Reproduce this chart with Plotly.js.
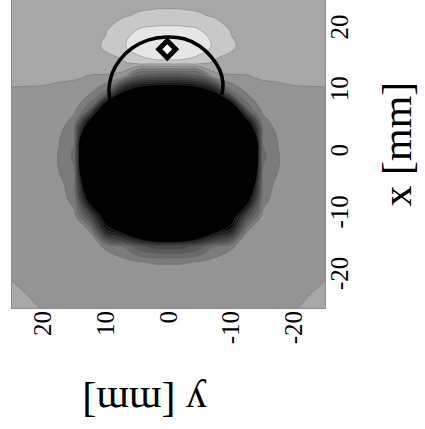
<!DOCTYPE html>
<html>
<head>
<meta charset="utf-8">
<script src="https://cdn.plot.ly/plotly-3.0.1.min.js"></script>
<style>
  html, body { margin: 0; padding: 0; background: #ffffff; }
  #chart { width: 425px; height: 429px; }
</style>
</head>
<body>
<div id="chart"></div>
<script>
// Grid coordinates in mm: horizontal axis is y, vertical axis is x
const gridY = [-25, -22.5, -20, -17.5, -15, -12.5, -10, -7.5, -5, -2.5, 0, 2.5, 5, 7.5, 10, 12.5, 15, 17.5, 20, 22.5, 25];
const gridX = [-25, -22.5, -20, -17.5, -15, -12.5, -10, -7.5, -5, -2.5, 0, 2.5, 5, 7.5, 10, 12.5, 15, 17.5, 20, 22.5, 25];

// Field level, one row per x value (bottom to top), columns follow gridY
const fieldRows = [
  [0.9, 0.45, -0.15, -0.5, -0.5, -0.5, -0.5, -0.5, -0.5, -0.5, -0.5, -0.5, -0.5, -0.5, -0.5, -0.5, -0.5, -0.5, -0.15, 0.45, 0.9],
  [0.45, -0.1, -0.5, -0.5, -0.5, -0.5, -0.5, -0.5, -0.5, -0.5, -0.5, -0.5, -0.5, -0.5, -0.5, -0.5, -0.5, -0.5, -0.5, -0.1, 0.45],
  [-0.15, -0.5, -0.5, -0.5, -0.5, -0.5, -0.5, -0.5, -0.5, -0.5, -0.5, -0.5, -0.5, -0.5, -0.5, -0.5, -0.5, -0.5, -0.5, -0.5, -0.15],
  [-0.5, -0.5, -0.5, -0.5, -0.5, -0.5, -0.5, -0.6, -0.95, -1.08, -1.1, -1.08, -0.95, -0.6, -0.5, -0.5, -0.5, -0.5, -0.5, -0.5, -0.5],
  [-0.5, -0.5, -0.5, -0.5, -0.5, -0.55, -1.15, -2.0, -3.5, -4.5, -4.75, -4.5, -3.5, -2.0, -1.15, -0.55, -0.5, -0.5, -0.5, -0.5, -0.5],
  [-0.5, -0.5, -0.5, -0.5, -0.5, -1.05, -7.5, -10, -15, -20, -22, -20, -15, -10, -7.5, -1.05, -0.5, -0.5, -0.5, -0.5, -0.5],
  [-0.5, -0.5, -0.5, -0.5, -0.8, -4.8, -11.5, -25, -25, -25, -25, -25, -25, -25, -11.5, -4.8, -0.8, -0.5, -0.5, -0.5, -0.5],
  [-0.5, -0.5, -0.5, -0.5, -1.35, -11, -25, -25, -25, -25, -25, -25, -25, -25, -25, -11, -1.35, -0.5, -0.5, -0.5, -0.5],
  [-0.5, -0.5, -0.5, -0.55, -1.9, -17.3, -25, -25, -25, -25, -25, -25, -25, -25, -25, -17.3, -1.9, -0.55, -0.5, -0.5, -0.5],
  [-0.5, -0.5, -0.5, -1.03, -2.0, -27, -25, -25, -25, -25, -25, -25, -25, -25, -25, -27, -2.0, -1.03, -0.5, -0.5, -0.5],
  [-0.5, -0.5, -0.5, -1.05, -2.3, -30, -25, -25, -25, -25, -25, -25, -25, -25, -25, -30, -2.3, -1.05, -0.5, -0.5, -0.5],
  [-0.5, -0.5, -0.5, -0.95, -1.8, -25, -25, -25, -25, -25, -25, -25, -25, -25, -25, -25, -1.8, -0.95, -0.5, -0.5, -0.5],
  [-0.5, -0.5, -0.5, -0.55, -1.5, -11.5, -25, -25, -25, -25, -25, -25, -25, -25, -25, -11.5, -1.5, -0.55, -0.5, -0.5, -0.5],
  [-0.5, -0.5, -0.5, -0.5, -0.7, -2.6, -13.3, -25, -25, -25, -25, -25, -25, -25, -13.3, -2.6, -0.7, -0.5, -0.5, -0.5, -0.5],
  [-0.35, -0.4, -0.5, -0.6, -0.6, -0.9, -2.3, -9.2, -12, -13.5, -14, -13.5, -12, -9.2, -2.3, -0.9, -0.6, -0.6, -0.5, -0.4, -0.35],
  [0.65, 0.6, 0.6, 0.3, 0.15, -0.1, -0.15, -0.4, -3.6, -4.3, -4.5, -4.3, -3.6, -0.4, -0.15, -0.1, 0.15, 0.3, 0.6, 0.6, 0.65],
  [0.6, 0.6, 0.6, 0.6, 0.6, 0.6, 0.7, 0.82, 1.7, 1.9, 1.92, 1.9, 1.7, 0.82, 0.7, 0.6, 0.6, 0.6, 0.6, 0.6, 0.6],
  [0.6, 0.6, 0.6, 0.6, 0.6, 0.65, 1.165, 1.86, 2.35, 2.55, 2.6, 2.55, 2.35, 1.86, 1.165, 0.65, 0.6, 0.6, 0.6, 0.6, 0.6],
  [0.6, 0.6, 0.6, 0.6, 0.6, 0.65, 0.95, 1.6, 2.06, 2.3, 2.35, 2.3, 2.06, 1.6, 0.95, 0.65, 0.6, 0.6, 0.6, 0.6, 0.6],
  [0.6, 0.6, 0.6, 0.6, 0.6, 0.6, 0.62, 0.85, 1.1, 1.25, 1.3, 1.25, 1.1, 0.85, 0.62, 0.6, 0.6, 0.6, 0.6, 0.6, 0.6],
  [0.6, 0.6, 0.6, 0.6, 0.6, 0.6, 0.6, 0.6, 0.6, 0.6, 0.6, 0.6, 0.6, 0.6, 0.6, 0.6, 0.6, 0.6, 0.6, 0.6, 0.6]
];

// Grey shade of each band, from the lowest level (below -9) to the highest (above 2)
const bandShades = ['#000000', '#0e0e0e', '#1c1c1c', '#2a2a2a', '#3a3a3a', '#4a4a4a', '#5a5a5a',
                    '#6b6b6b', '#7b7b7b', '#949494', '#a7a7a7', '#c8c8c8', '#e6e6e6'];

// Traced arc (y, x in mm)
const arcY = [9.35, 9.5, 9.0, 7.75, 5.8, 3.3, 0.4, -2.5, -5.0, -6.9, -8.2, -8.7, -8.5];
const arcX = [8.77, 10.7, 13.1, 15.3, 17.2, 18.5, 19.0, 18.7, 17.5, 15.7, 13.6, 11.5, 9.6];

// Marked point (y, x in mm)
const pointY = [0.2];
const pointX = [17.0];

const tickValues = [-20, -10, 0, 10, 20];
const tickLabels = ['-20', '-10', '0', '10', '20'];

const colorscale = bandShades.map((c, i) => [i / (bandShades.length - 1), c]);

const field = {
  type: 'contour',
  x: gridY,
  y: gridX,
  z: fieldRows,
  autocontour: false,
  contours: { start: -9, end: 2, size: 1, coloring: 'fill', showlines: true },
  line: { color: 'rgba(95,95,95,0.6)', width: 0.6, smoothing: 1.3 },
  colorscale: colorscale,
  showscale: false,
  hoverinfo: 'skip'
};

const arc = {
  type: 'scatter',
  mode: 'lines',
  x: arcY,
  y: arcX,
  line: { color: '#000000', width: 3.5, shape: 'spline', smoothing: 1 },
  hoverinfo: 'skip'
};

const point = {
  type: 'scatter',
  mode: 'markers',
  x: pointY,
  y: pointX,
  marker: { symbol: 'diamond', size: 13, color: '#ffffff', line: { color: '#000000', width: 5 } },
  hoverinfo: 'skip'
};

const tickFont = { family: 'Liberation Serif, Times New Roman, serif', size: 25, color: '#000000' };
const titleFont = { family: 'Liberation Serif, Times New Roman, serif', size: 42, color: '#000000' };

const layout = {
  width: 425,
  height: 429,
  margin: { l: 12, r: 100, t: 0, b: 121, pad: 0 },
  paper_bgcolor: '#ffffff',
  plot_bgcolor: '#ffffff',
  showlegend: false,
  xaxis: {
    range: [25, -25],
    tickvals: tickValues,
    ticktext: tickLabels,
    tickangle: -90,
    ticks: '',
    ticklabelstandoff: -8,
    tickfont: tickFont,
    showgrid: false,
    zeroline: false,
    showline: true,
    mirror: true,
    linecolor: '#8c8c8c',
    linewidth: 1
  },
  yaxis: {
    range: [-25, 25],
    side: 'right',
    tickvals: tickValues,
    ticktext: tickLabels,
    tickangle: -90,
    ticks: '',
    ticklabelstandoff: -8,
    tickfont: tickFont,
    showgrid: false,
    zeroline: false,
    showline: true,
    mirror: true,
    linecolor: '#8c8c8c',
    linewidth: 1
  },
  annotations: [
    { text: 'x [mm]', xref: 'paper', yref: 'paper', x: 1.23, y: 0.534,
      xanchor: 'center', yanchor: 'middle', textangle: -90, showarrow: false, font: titleFont },
    { text: 'y [mm]', xref: 'paper', yref: 'paper', x: 0.425, y: -0.305,
      xanchor: 'center', yanchor: 'middle', textangle: 180, showarrow: false, font: titleFont }
  ]
};

Plotly.newPlot('chart', [field, arc, point], layout, { displayModeBar: false, staticPlot: true });
</script>
</body>
</html>
